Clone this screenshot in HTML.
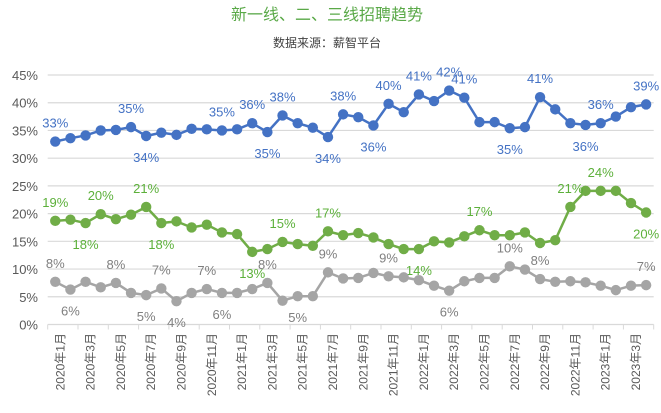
<!DOCTYPE html>
<html><head><meta charset="utf-8"><style>
body{margin:0;background:#fff;}
svg{display:block;font-family:"Liberation Sans","Noto Sans CJK SC",sans-serif;}
</style></head><body>
<svg id="chart" width="661" height="413" viewBox="0 0 661 413" xmlns="http://www.w3.org/2000/svg">
<text x="327" y="20" text-anchor="middle" font-size="16" fill="#5aa948">新一线、二、三线招聘趋势</text>
<text x="327" y="47" text-anchor="middle" font-size="12" fill="#404040">数据来源：薪智平台</text>
<g id="grid"></g><g id="series"></g><g id="xaxis"></g>
</svg>
<script>
const months = [];
for (let i = 0; i < 40; i++) { const y = 2020 + Math.floor(i / 12), m = i % 12 + 1; months.push(y + '年' + m + '月'); }
const yTicks = [0,5,10,15,20,25,30,35,40,45];
const tier1 = [33.0,33.6,34.1,35.0,35.1,35.6,34.0,34.6,34.2,35.3,35.2,35.0,35.2,36.3,34.7,37.7,36.3,35.5,33.8,37.9,37.4,35.9,39.8,38.3,41.5,40.3,42.2,40.9,36.5,36.5,35.4,35.6,41.0,38.8,36.3,36.0,36.3,37.5,39.2,39.7];
const tier2 = [18.7,18.9,18.3,19.9,19.0,19.8,21.2,18.3,18.6,17.5,18.0,16.6,16.3,13.1,13.6,14.9,14.5,14.2,16.8,16.1,16.5,15.7,14.5,13.6,13.6,15.0,14.8,15.9,17.0,16.1,16.1,16.6,14.7,15.2,21.2,24.1,24.1,24.1,21.9,20.2];
const tier3 = [7.7,6.3,7.7,6.7,7.5,5.7,5.3,6.5,4.2,5.7,6.4,5.7,5.7,6.4,7.5,4.3,5.1,5.1,9.4,8.3,8.4,9.3,8.7,8.5,8.0,7.0,6.1,7.8,8.4,8.4,10.5,9.9,8.2,7.7,7.8,7.6,7.0,6.2,7.0,7.1];
// labels: [index, text, position 'a' above / 'b' below]
const tier1Labels = [[0,'33%','a'],[5,'35%','a'],[6,'34%','b'],[11,'35%','a'],[13,'36%','a'],[14,'35%','b'],[15,'38%','a'],[18,'34%','b'],[19,'38%','a'],[21,'36%','b'],[22,'40%','a'],[24,'41%','a'],[26,'42%','a'],[27,'41%','a'],[30,'35%','b'],[32,'41%','a'],[35,'36%','b'],[36,'36%','a'],[39,'39%','a']];
const tier2Labels = [[0,'19%','a'],[2,'18%','b'],[3,'20%','a'],[6,'21%','a'],[7,'18%','b'],[13,'13%','b'],[15,'15%','a'],[18,'17%','a'],[24,'14%','b'],[28,'17%','a'],[34,'21%','a'],[36,'24%','a'],[39,'20%','b']];
const tier3Labels = [[0,'8%','a'],[1,'6%','b'],[4,'8%','a'],[6,'5%','b'],[7,'7%','a'],[8,'4%','b'],[10,'7%','a'],[11,'6%','b'],[14,'8%','a'],[16,'5%','b'],[18,'9%','a'],[22,'9%','a'],[26,'6%','b'],[30,'10%','a'],[32,'8%','a'],[39,'7%','a']];

const NS = 'http://www.w3.org/2000/svg';
const L = 47.7, R = 653.7, T = 75, B = 324.5;
const bw = (R - L) / months.length;
const xs = i => L + bw * (i + 0.5);
const ys = v => B - (v / 45) * (B - T);
function mk(tag, attrs, parent) { const e = document.createElementNS(NS, tag); for (const k in attrs) e.setAttribute(k, attrs[k]); parent.appendChild(e); return e; }
const grid = document.getElementById('grid'), ser = document.getElementById('series'), xa = document.getElementById('xaxis');
yTicks.forEach(t => {
  const ln = mk('line', {x1: L, x2: R, y1: ys(t), y2: ys(t), stroke: '#d9d9d9', 'stroke-width': 1.2}, grid);
  
  
  const tx = mk('text', {x: 38, y: ys(t) + 5, 'text-anchor': 'end', 'font-size': 13, fill: '#595959'}, grid);
  tx.textContent = t + '%';
  
  
});
for (let i = 0; i <= months.length; i += 2) {
  const tk = mk('line', {x1: L + bw * i, x2: L + bw * i, y1: B, y2: B + 5, stroke: '#d9d9d9'}, xa);
  
  
}
months.forEach((m, i) => {
  if (i % 2) return;
  const x = xs(i) + 9, y = 333;
  const tx = mk('text', {x: x, y: y, 'text-anchor': 'end', 'font-size': 12, fill: '#595959', transform: 'rotate(-90 ' + x + ' ' + y + ')'}, xa);
  tx.textContent = m;
  
  
});
function drawSeries(vals, labels, color, lblColor, name) {
  const g = mk('g', {}, ser);
  
  
  const pl = mk('polyline', {points: vals.map((v, i) => xs(i) + ',' + ys(v)).join(' '), fill: 'none', stroke: color, 'stroke-width': 2.5}, g);
  
  
  vals.forEach((v, i) => {
    const c = mk('circle', {cx: xs(i), cy: ys(v), r: 5.2, fill: color}, g);
    
    
  });
  labels.forEach(([i, t, p]) => {
    const y = p === 'a' ? ys(vals[i]) - 14 : ys(vals[i]) + 26;
    const tx = mk('text', {x: xs(i), y: y, 'text-anchor': 'middle', 'font-size': 13, fill: lblColor}, g);
    tx.textContent = t;
    
    
  });
}
drawSeries(tier1, tier1Labels, '#4472c4', '#4472c4', 'new-tier1');
drawSeries(tier2, tier2Labels, '#70ad47', '#5cb03a', 'tier2');
drawSeries(tier3, tier3Labels, '#a5a5a5', '#7f7f7f', 'tier3');
</script>
</body></html>
